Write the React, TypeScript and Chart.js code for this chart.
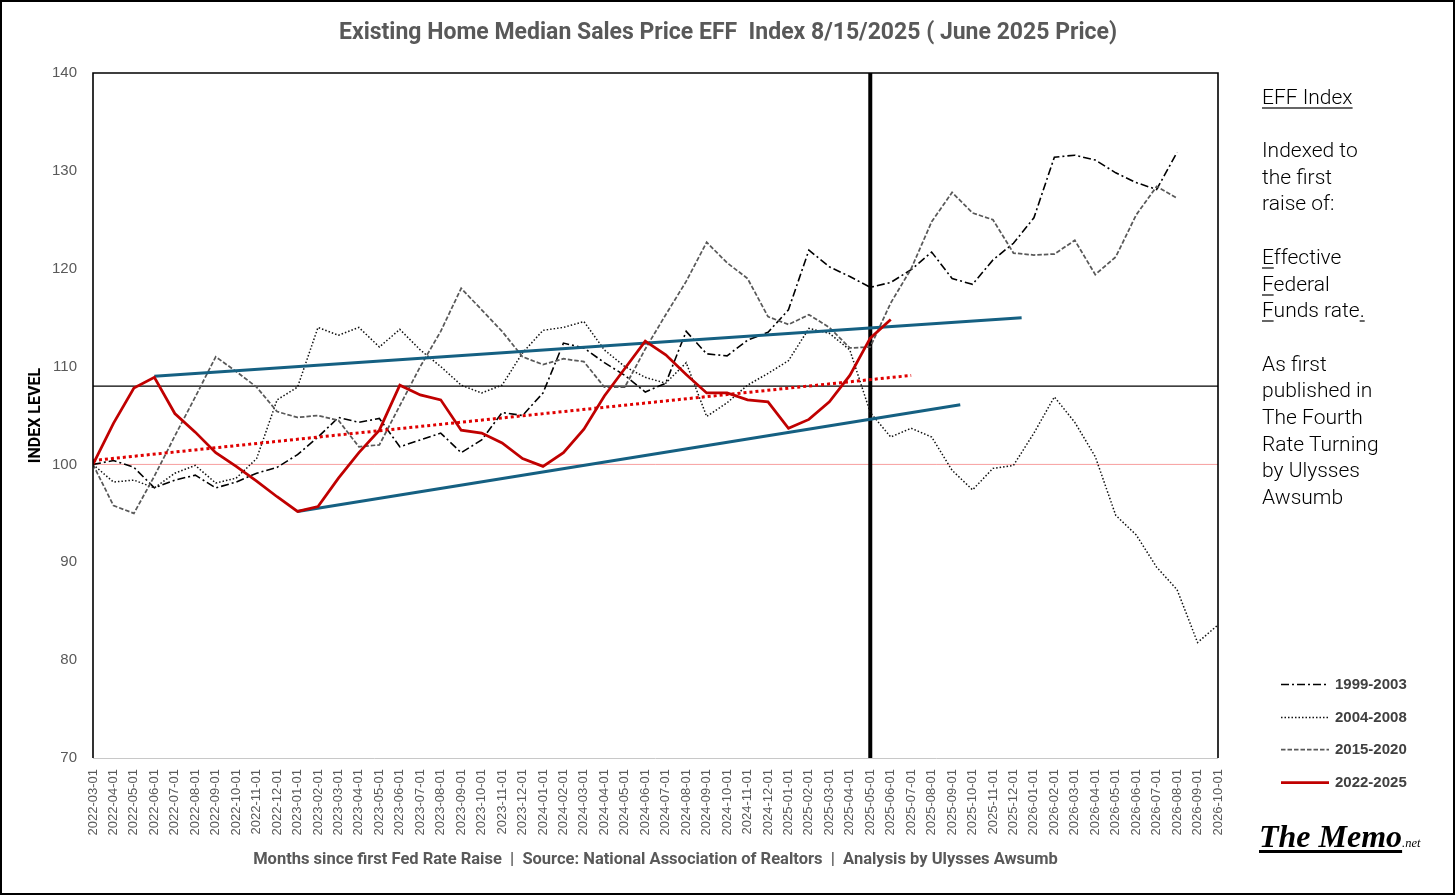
import React, { useEffect, useRef } from 'react';
import { Chart, registerables } from 'chart.js';

Chart.register(...registerables);

// ---------------- data ----------------
const CATEGORIES = [
  '2022-03-01', '2022-04-01', '2022-05-01', '2022-06-01', '2022-07-01', '2022-08-01', '2022-09-01', '2022-10-01',
  '2022-11-01', '2022-12-01', '2023-01-01', '2023-02-01', '2023-03-01', '2023-04-01', '2023-05-01', '2023-06-01',
  '2023-07-01', '2023-08-01', '2023-09-01', '2023-10-01', '2023-11-01', '2023-12-01', '2024-01-01', '2024-02-01',
  '2024-03-01', '2024-04-01', '2024-05-01', '2024-06-01', '2024-07-01', '2024-08-01', '2024-09-01', '2024-10-01',
  '2024-11-01', '2024-12-01', '2025-01-01', '2025-02-01', '2025-03-01', '2025-04-01', '2025-05-01', '2025-06-01',
  '2025-07-01', '2025-08-01', '2025-09-01', '2025-10-01', '2025-11-01', '2025-12-01', '2026-01-01', '2026-02-01',
  '2026-03-01', '2026-04-01', '2026-05-01', '2026-06-01', '2026-07-01', '2026-08-01', '2026-09-01', '2026-10-01',
];

const Y_MIN = 70;
const Y_MAX = 140;
const Y_STEP = 10;

const SERIES_1999_2003 = [
  100, 100.4, 99.7, 97.6, 98.4, 98.9, 97.6, 98.2, 99.1, 99.7,
  101.0, 102.8, 104.8, 104.3, 104.7, 101.8, 102.5, 103.2, 101.2, 102.5,
  105.3, 105.0, 107.3, 112.4, 111.9, 110.4, 109.1, 107.4, 108.3, 113.6,
  111.3, 111.1, 112.7, 113.5, 115.8, 121.9, 120.2, 119.2, 118.1, 118.6,
  119.9, 121.7, 119.0, 118.4, 120.9, 122.6, 125.2, 131.4, 131.6, 131.1,
  129.8, 128.8, 128.1, 131.9,
];

const SERIES_2004_2008 = [
  100, 98.2, 98.4, 97.6, 99.1, 99.9, 98.1, 98.6, 100.6, 106.6,
  107.9, 114.0, 113.2, 114.0, 112.0, 113.8, 111.7, 110.0, 108.1, 107.3,
  108.1, 111.4, 113.7, 114.0, 114.6, 111.7, 110.0, 108.9, 108.3, 110.4,
  104.9, 106.3, 108.1, 109.3, 110.6, 113.9, 113.4, 111.7, 105.3, 102.8,
  103.7, 102.8, 99.4, 97.4, 99.6, 99.9, 103.2, 106.9, 104.3, 100.8,
  94.8, 92.8, 89.5, 87.2, 81.8, 83.6,
];

const SERIES_2015_2020 = [
  100, 95.8, 95.0, 98.8, 102.9, 106.9, 111.0, 109.5, 107.9, 105.4,
  104.8, 105.0, 104.5, 101.8, 102.0, 106.0, 110.0, 113.6, 118.0, 115.8,
  113.6, 111.0, 110.2, 110.8, 110.5, 107.9, 107.9, 111.8, 115.3, 118.7,
  122.7, 120.6, 119.0, 115.1, 114.3, 115.3, 114.0, 111.9, 112.0, 116.5,
  120.0, 124.8, 127.8, 125.7, 125.0, 121.6, 121.4, 121.5, 122.9, 119.4,
  121.2, 125.5, 128.4, 127.2,
];

const SERIES_2022_2025 = [
  100, 104.2, 107.8, 108.9, 105.2, 103.3, 101.2, 99.8, 98.3, 96.7,
  95.2, 95.7, 98.6, 101.2, 103.5, 108.1, 107.1, 106.6, 103.5, 103.2,
  102.2, 100.6, 99.8, 101.2, 103.6, 107.0, 109.8, 112.6, 111.2, 109.2,
  107.3, 107.3, 106.6, 106.4, 103.7, 104.6, 106.4, 109.1, 112.9, 114.8,
];

// trend lines (month index, index level)
const TREND_RED_X = [0, 40];
const TREND_RED_Y = [100.4, 109.1];
const TREND_UPPER_X = [3, 45.4];
const TREND_UPPER_Y = [109.0, 115.0];
const TREND_LOWER_X = [10, 42.4];
const TREND_LOWER_Y = [95.2, 106.1];

const REF_LEVEL = 108;
const BASE_LEVEL = 100;
const MARKER_INDEX = 38;

const SERIES_NAMES = ['1999-2003', '2004-2008', '2015-2020', '2022-2025'];

const TITLE = 'Existing Home Median Sales Price EFF  Index 8/15/2025 ( June 2025 Price)';
const X_TITLE = 'Months since first Fed Rate Raise  |  Source: National Association of Realtors  |  Analysis by Ulysses Awsumb';
const Y_TITLE = 'INDEX LEVEL';

// ---------------- helpers ----------------
const toPoints = (arr: number[]) => arr.map((v, i) => ({ x: i, y: v }));
const pairPoints = (xs: number[], ys: number[]) => xs.map((x, i) => ({ x, y: ys[i] }));

const framePlugin = {
  id: 'plotFrame',
  afterDatasetsDraw(chart: any) {
    const { ctx, chartArea } = chart;
    const { left, right, top, bottom } = chartArea;
    ctx.save();
    ctx.setLineDash([]);
    ctx.strokeStyle = '#c8c8c8';
    ctx.lineWidth = 1;
    ctx.beginPath();
    ctx.moveTo(left, bottom + 0.5);
    ctx.lineTo(right, bottom + 0.5);
    ctx.stroke();
    ctx.strokeStyle = '#000';
    ctx.lineWidth = 1.6;
    ctx.beginPath();
    ctx.moveTo(left, bottom);
    ctx.lineTo(left, top);
    ctx.lineTo(right, top);
    ctx.lineTo(right, bottom);
    ctx.stroke();
    ctx.restore();
  },
};

const legendPlugin = {
  id: 'sideLegend',
  afterDraw(chart: any) {
    const { ctx, chartArea } = chart;
    const x0 = chartArea.right + 63;
    const x1 = chartArea.right + 111;
    const tx = chartArea.right + 117;
    const y0 = 684;
    const gap = 32.7;
    ctx.save();
    for (let k = 0; k < SERIES_NAMES.length; k++) {
      const ds = chart.data.datasets[k];
      const y = Math.round(y0 + k * gap) + 0.5;
      ctx.beginPath();
      ctx.setLineDash(ds.borderDash || []);
      ctx.lineWidth = ds.borderWidth;
      ctx.strokeStyle = ds.borderColor;
      ctx.moveTo(x0, y);
      ctx.lineTo(x1, y);
      ctx.stroke();
      ctx.setLineDash([]);
      ctx.fillStyle = '#404040';
      ctx.font = 'bold 15px "Liberation Sans", Arial, sans-serif';
      ctx.textBaseline = 'middle';
      ctx.textAlign = 'left';
      ctx.fillText(ds.label, tx, y);
    }
    ctx.restore();
  },
};

const App: React.FC = () => {
  const canvasRef = useRef<HTMLCanvasElement | null>(null);

  useEffect(() => {
    if (!canvasRef.current) return;
    const common = { pointRadius: 0, pointHoverRadius: 0, fill: false, tension: 0, spanGaps: false };
    const chart = new Chart(canvasRef.current, {
      type: 'line',
      data: {
        datasets: [
          {
            ...common,
            label: SERIES_NAMES[0],
            data: toPoints(SERIES_1999_2003),
            borderColor: '#000000',
            borderWidth: 1.6,
            borderDash: [8, 3, 2, 3],
            order: 5,
          },
          {
            ...common,
            label: SERIES_NAMES[1],
            data: toPoints(SERIES_2004_2008),
            borderColor: '#111111',
            borderWidth: 1.5,
            borderDash: [1.5, 2],
            order: 6,
          },
          {
            ...common,
            label: SERIES_NAMES[2],
            data: toPoints(SERIES_2015_2020),
            borderColor: '#595959',
            borderWidth: 1.75,
            borderDash: [4.5, 2],
            order: 4,
          },
          {
            ...common,
            label: SERIES_NAMES[3],
            data: toPoints(SERIES_2022_2025),
            borderColor: '#c00000',
            borderWidth: 2.75,
            order: 0,
          },
          {
            ...common,
            label: 'trend-upper',
            data: pairPoints(TREND_UPPER_X, TREND_UPPER_Y),
            borderColor: '#156082',
            borderWidth: 3,
            order: 1,
          },
          {
            ...common,
            label: 'trend-lower',
            data: pairPoints(TREND_LOWER_X, TREND_LOWER_Y),
            borderColor: '#156082',
            borderWidth: 3,
            order: 1,
          },
          {
            ...common,
            label: 'trend-red',
            data: pairPoints(TREND_RED_X, TREND_RED_Y),
            borderColor: '#e00000',
            borderWidth: 3,
            borderDash: [3, 3],
            order: 2,
          },
          {
            ...common,
            label: 'ref',
            data: [{ x: 0, y: REF_LEVEL }, { x: CATEGORIES.length - 1, y: REF_LEVEL }],
            borderColor: '#000000',
            borderWidth: 1.2,
            order: 10,
          },
          {
            ...common,
            label: 'base',
            data: [{ x: 0, y: BASE_LEVEL }, { x: CATEGORIES.length - 1, y: BASE_LEVEL }],
            borderColor: 'rgba(240,80,80,0.55)',
            borderWidth: 1,
            order: 11,
          },
          {
            ...common,
            label: 'marker',
            data: [{ x: MARKER_INDEX, y: Y_MIN }, { x: MARKER_INDEX, y: Y_MAX }],
            borderColor: '#000000',
            borderWidth: 4,
            order: 9,
          },
        ],
      },
      options: {
        responsive: false,
        animation: false,
        devicePixelRatio: window.devicePixelRatio || 1,
        events: [],
        layout: { padding: 0 },
        plugins: {
          legend: { display: false },
          tooltip: { enabled: false },
          title: {
            display: true,
            text: TITLE,
            color: '#595959',
            font: { family: 'Roboto, "Liberation Sans", sans-serif', size: 23, weight: 'bold' },
            padding: { top: 19.2, bottom: 26.2 },
          },
        },
        scales: {
          x: {
            type: 'linear',
            min: 0,
            max: CATEGORIES.length - 1,
            grid: { display: false, drawTicks: false },
            border: { display: false },
            ticks: {
              stepSize: 1,
              autoSkip: false,
              maxRotation: 90,
              minRotation: 90,
              padding: 11,
              color: '#595959',
              font: { family: '"Liberation Sans", Arial, sans-serif', size: 13 },
              callback: (v: any) => CATEGORIES[Math.round(Number(v))] ?? '',
            },
            title: {
              display: true,
              text: X_TITLE,
              color: '#595959',
              font: { family: 'Roboto, "Liberation Sans", sans-serif', size: 16.5, weight: 'bold' },
              padding: { top: 0, bottom: 26 },
            },
            afterFit: (s: any) => {
              s.height = 138;
            },
          },
          y: {
            type: 'linear',
            position: 'left',
            min: Y_MIN,
            max: Y_MAX,
            grid: { display: false, drawTicks: false },
            border: { display: false },
            ticks: {
              stepSize: Y_STEP,
              padding: 16,
              color: '#595959',
              font: { family: '"Liberation Sans", Arial, sans-serif', size: 15 },
            },
            title: {
              display: true,
              text: Y_TITLE,
              color: '#000000',
              font: { family: 'Roboto, "Liberation Sans", sans-serif', size: 16, weight: 'bold' },
              padding: { top: 26.4, bottom: 0 },
            },
            afterFit: (s: any) => {
              s.width = 93;
            },
          },
          yRight: {
            type: 'linear',
            position: 'right',
            display: true,
            grid: { display: false, drawTicks: false },
            border: { display: false },
            ticks: { display: false },
            afterFit: (s: any) => {
              s.width = 238;
            },
          },
        },
      },
      plugins: [framePlugin, legendPlugin],
    } as any);
    return () => chart.destroy();
  }, []);

  const panelFont = '300 21px Roboto, "Liberation Sans", sans-serif';
  const u = (t: string) => (
    <span style={{ textDecoration: 'underline', textDecorationColor: '#666', textUnderlineOffset: 3 }}>{t}</span>
  );
  const lines: React.ReactNode[] = [
    u('EFF Index'),
    '\u00a0',
    'Indexed to',
    'the first',
    'raise of:',
    '\u00a0',
    <>{u('E')}ffective</>,
    <>{u('F')}ederal</>,
    <>{u('F')}unds rate{u('.')}</>,
    '\u00a0',
    'As first',
    'published in',
    'The Fourth',
    'Rate Turning',
    'by Ulysses',
    'Awsumb',
  ];

  return (
    <div style={{ position: 'absolute', left: 0, top: 0, width: 1456, height: 896, background: '#fff', overflow: 'hidden' }}>
      <canvas ref={canvasRef} width={1456} height={896} style={{ position: 'absolute', left: 0, top: 0, width: 1456, height: 896 }} />
      <div
        style={{
          position: 'absolute',
          left: 1262,
          top: 83.6,
          font: panelFont,
          lineHeight: '26.7px',
          color: '#000',
          whiteSpace: 'pre',
        }}
      >
        {lines.map((l, i) => (
          <div key={i}>{l}</div>
        ))}
      </div>
      <div style={{ position: 'absolute', left: 1259, top: 820, lineHeight: '32px', whiteSpace: 'pre', color: '#000' }}>
        <span
          style={{
            fontFamily: '"Liberation Serif", "DejaVu Serif", serif',
            fontStyle: 'italic',
            fontWeight: 700,
            fontSize: 32,
            textDecoration: 'underline',
            textDecorationThickness: '3px',
            textUnderlineOffset: '3px',
          }}
        >
          The Memo
        </span>
        <span style={{ fontFamily: '"Liberation Serif", serif', fontStyle: 'italic', fontSize: 12.5 }}>.net</span>
      </div>
      <div
        style={{
          position: 'absolute',
          left: 0,
          top: 0,
          width: 1455,
          height: 895,
          border: '2px solid #000',
          boxSizing: 'border-box',
          pointerEvents: 'none',
        }}
      />
    </div>
  );
};

export default App;
